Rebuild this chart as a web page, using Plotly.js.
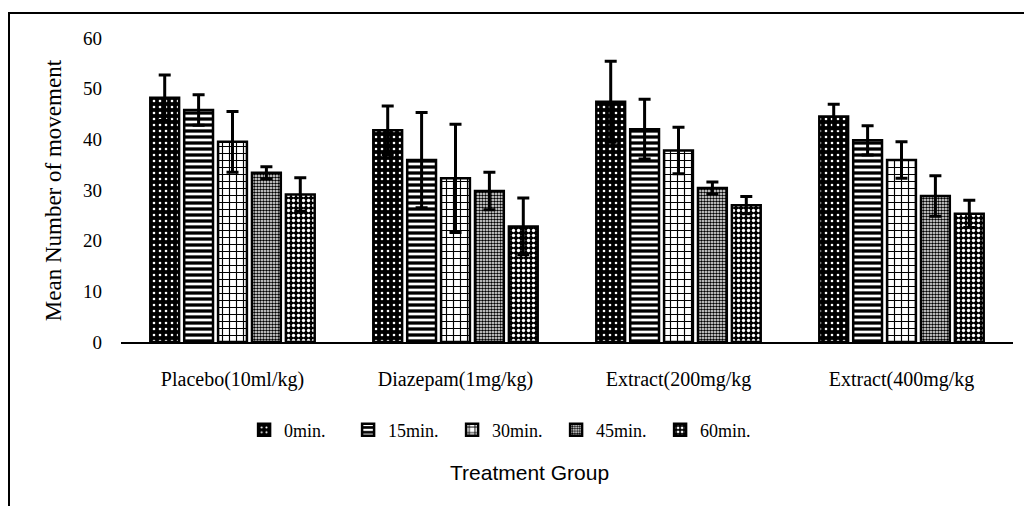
<!DOCTYPE html>
<html>
<head>
<meta charset="utf-8">
<script src="https://cdn.plot.ly/plotly-3.0.1.min.js"></script>
<style>
html,body{margin:0;padding:0;background:#fff;}
#chart{width:1024px;height:506px;position:relative;}
#frame{position:absolute;left:8px;top:12px;width:1016px;height:494px;border-top:2.5px solid #000;border-left:2.5px solid #000;box-sizing:border-box;pointer-events:none;}
</style>
</head>
<body>
<div id="chart"></div>
<div id="frame"></div>
<script>
const categories = ["Placebo(10ml/kg)", "Diazepam(1mg/kg)", "Extract(200mg/kg", "Extract(400mg/kg"];
const seriesNames = ["0min.", "15min.", "30min.", "45min.", "60min."];
const min0  = [48.2, 41.8, 47.4, 44.5];
const min15 = [45.8, 35.9, 42.0, 39.8];
const min30 = [39.5, 32.3, 37.8, 35.9];
const min45 = [33.4, 29.8, 30.4, 28.8];
const min60 = [29.1, 22.8, 27.0, 25.3];
const err0  = [4.5, 4.8, 8.0, 2.4];
const err15 = [3.0, 9.4, 5.9, 2.9];
const err30 = [6.0, 10.7, 4.6, 3.6];
const err45 = [1.2, 3.7, 1.2, 4.0];
const err60 = [3.3, 5.6, 1.7, 2.7];
const yTicks = [0, 10, 20, 30, 40, 50, 60];

const values = [min0, min15, min30, min45, min60];
const errors = [err0, err15, err30, err45, err60];
const patterns = [
  {shape: ".", bgcolor: "#000", fgcolor: "#fff", size: 6, solidity: 0.15, fillmode: "replace"},
  {shape: "-", bgcolor: "#fff", fgcolor: "#000", size: 6, solidity: 0.55, fillmode: "replace"},
  {shape: "+", bgcolor: "#fff", fgcolor: "#000", size: 7, solidity: 0.3, fillmode: "replace"},
  {shape: ".", bgcolor: "#fff", fgcolor: "#000", size: 3, solidity: 0.55, fillmode: "replace"},
  {shape: ".", bgcolor: "#000", fgcolor: "#fff", size: 5, solidity: 0.35, fillmode: "replace"}
];
const serif = "Liberation Serif, Times New Roman, serif";

const traces = seriesNames.map((n, i) => ({
  type: "bar",
  name: n,
  x: categories,
  y: values[i],
  error_y: {type: "data", array: errors[i], visible: true, color: "#000", thickness: 3, width: 6},
  marker: {color: patterns[i].bgcolor, pattern: patterns[i], line: {color: "#000", width: 2.5}}
}));

const layout = {
  width: 1024, height: 506,
  margin: {l: 121, r: 11, t: 38, b: 164},
  paper_bgcolor: "#fff", plot_bgcolor: "#fff",
  barmode: "group", bargap: 0.24, bargroupgap: 0.15,
  showlegend: true,
  legend: {orientation: "h", x: 0.138, xanchor: "left", y: -0.29, yanchor: "middle",
           font: {family: serif, size: 18, color: "#000"}, itemwidth: 30, entrywidth: 59,
           tracegroupgap: 0, traceorder: "normal"},
  font: {family: serif, color: "#000"},
  xaxis: {type: "category", showline: true, linecolor: "#000", linewidth: 2, ticks: "",
          ticklabelstandoff: 18, tickfont: {family: serif, size: 20, color: "#000"}, showgrid: false, zeroline: false},
  yaxis: {range: [0, 60], tickvals: yTicks, showline: false, showgrid: false, zeroline: false, ticks: "",
          ticklabelstandoff: 18, tickfont: {family: serif, size: 19, color: "#000"}},
  annotations: [
    {text: "Mean Number of movement", xref: "paper", yref: "paper", x: -0.076, y: 0.5, xanchor: "center", yanchor: "middle",
     textangle: -90, showarrow: false, font: {family: serif, size: 23, color: "#000"}},
    {text: "Treatment Group", xref: "paper", yref: "paper", x: 0.458, y: -0.43, xanchor: "center", yanchor: "middle",
     showarrow: false, font: {family: "Liberation Sans, Arial, sans-serif", size: 21, color: "#000"}}
  ]
};

Plotly.newPlot("chart", traces, layout, {displayModeBar: false, staticPlot: true});
</script>
</body>
</html>
